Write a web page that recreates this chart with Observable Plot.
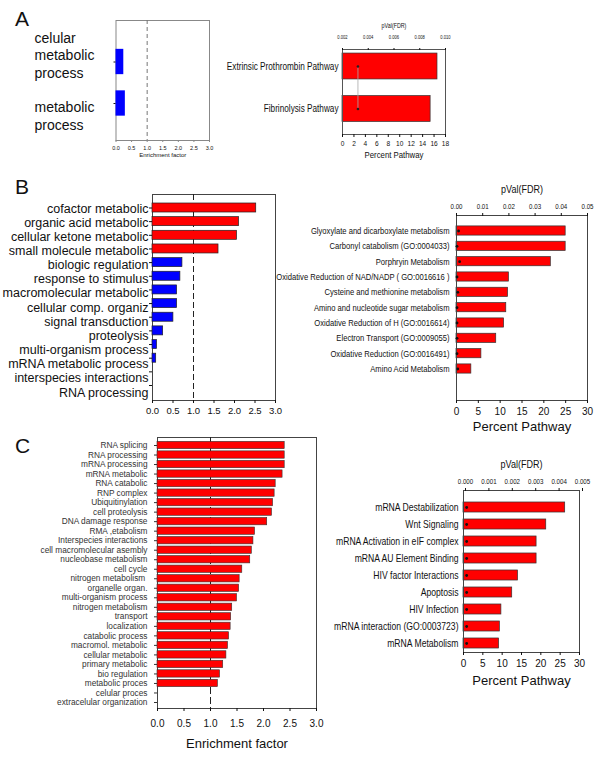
<!DOCTYPE html>
<html><head><meta charset="utf-8">
<script src="https://cdn.jsdelivr.net/npm/d3@7"></script>
<script src="https://cdn.jsdelivr.net/npm/@observablehq/plot@0.6"></script>
<style>
body{margin:0;background:#fff;}
#root{position:relative;width:604px;height:760px;overflow:hidden;background:#fff;font-family:"Liberation Sans",Arial,sans-serif;}
#root svg{position:absolute;left:0;top:0;}
.letter{position:absolute;font-size:21px;color:#111;line-height:1;}
</style></head><body><div id="root"></div>
<script>
// ---------- DATA ----------
const aLeftCats = ["celular metabolic process", "metabolic process"];
const aLeftLabels = ["celular\nmetabolic\nprocess", "metabolic\nprocess"];
const aLeftValues = [0.25, 0.3];
const enrichTicks = [0, 0.5, 1, 1.5, 2, 2.5, 3];

const aRightCats = ["Extrinsic Prothrombin Pathway", "Fibrinolysis Pathway"];
const aRightPercent = [16.6, 15.4];
const aRightPval = [0.0032, 0.0032];
const aPctTicks = [0, 2, 4, 6, 8, 10, 12, 14, 16, 18];
const aPvalTicks = [0.002, 0.004, 0.006, 0.008, 0.010];

const bLeftCats = ["cofactor metabolic", "organic acid metabolic", "cellular ketone metabolic", "small molecule metabolic", "biologic regulation", "response to stimulus", "macromolecular metabolic", "cellular comp. organiz", "signal transduction", "proteolysis", "multi-organism process", "mRNA metabolic process", "interspecies interactions", "RNA processing"];
const bLeftValues = [2.53, 2.11, 2.06, 1.61, 0.73, 0.68, 0.60, 0.60, 0.51, 0.26, 0.11, 0.09, 0, 0];
const bLeftDirection = ["up", "up", "up", "up", "down", "down", "down", "down", "down", "down", "down", "down", "down", "down"];

const bRightCats = ["Glyoxylate and dicarboxylate metabolism", "Carbonyl catabolism (GO:0004033)", "Porphryin Metabolism", "Oxidative Reduction of NAD/NADP ( GO:0016616 )", "Cysteine and methionine metabolism", "Amino and nucleotide sugar metabolism", "Oxidative Reduction of H (GO:0016614)", "Electron Transport (GO:0009055)", "Oxidative Reduction (GO:0016491)", "Amino Acid Metabolism"];
const bRightPercent = [25.0, 25.0, 21.6, 12.0, 11.8, 11.4, 10.9, 9.1, 5.7, 3.4];
const bRightPval = [0.0008, 0.0002, 0.0012, 0.0002, 0.0005, 0.0002, 0.0002, 0.0002, 0.0002, 0.0005];
const bPctTicks = [0, 5, 10, 15, 20, 25, 30];
const bPvalTicks = [0, 0.01, 0.02, 0.03, 0.04, 0.05];

const cLeftCats = ["RNA splicing", "RNA processing", "mRNA processing", "mRNA metabolic", "RNA catabolic", "RNP complex", "Ubiquitinylation", "cell proteolysis", "DNA damage response", "RMA ,etabolism", "Interspecies interactions", "cell macromolecular asembly", "nucleobase metabolism", "cell cycle", "nitrogen metabolism ", "organelle organ.", "multi-organism process", "nitrogen metabolism", "transport", "localization", "catabolic process", "macromol. metabolic", "cellular metabolic", "primary metabolic", "bio regulation", "metabolic proces", "celular proces", "extracelular organization"];
const cLeftValues = [2.40, 2.40, 2.40, 2.36, 2.23, 2.21, 2.18, 2.16, 2.07, 1.84, 1.81, 1.78, 1.75, 1.60, 1.55, 1.54, 1.50, 1.41, 1.39, 1.38, 1.35, 1.33, 1.30, 1.24, 1.18, 1.14, 0, 0];

const cRightCats = ["mRNA Destabilization", "Wnt Signaling", "mRNA Activation in eIF complex", "mRNA AU Element Binding", "HIV factor Interactions", "Apoptosis", "HIV Infection", "mRNA interaction (GO:0003723)", "mRNA Metabolism"];
const cRightPercent = [26.3, 21.4, 18.9, 18.9, 14.1, 12.6, 9.8, 9.4, 9.2];
const cRightPval = [0.00005, 0.00005, 0.00005, 0.00005, 0.00005, 0.00005, 0.00005, 0.00005, 0.00005];
const cPvalTicks = [0, 0.001, 0.002, 0.003, 0.004, 0.005];

// ---------- HELPERS ----------
const W = 604, H = 760;
const SANS = '"Liberation Sans", Arial, sans-serif';
const NARROW = '"Liberation Sans Narrow", "Arial Narrow", "Liberation Sans", Arial, sans-serif';
const root = document.getElementById("root");
function place(frame, opts) {
  const [x0, x1, y0, y1] = frame;
  const svg = Plot.plot({
    width: W, height: H,
    marginLeft: x0, marginRight: W - x1, marginTop: y0, marginBottom: H - y1,
    style: {background: "transparent", fontFamily: SANS, overflow: "visible", color: "#111"},
    ...opts
  });
  root.append(svg);
  // emulate a condensed face for the "narrow" texts (no condensed font installed)
  svg.querySelectorAll("text").forEach(t => {
    if (getComputedStyle(t).fontFamily.includes("Narrow") && t.querySelectorAll("tspan").length === 0) {
      const L = t.getComputedTextLength();
      if (L > 0) {
        t.setAttribute("textLength", (L * 0.82).toFixed(2));
        t.setAttribute("lengthAdjust", "spacingAndGlyphs");
      }
    }
  });
}
function bandY(domain, c0, c1, pad) {
  const n = domain.length;
  const step = n > 1 ? (c1 - c0) / (n - 1) : 40;
  return {domain, range: [c0 - step / 2, c1 + step / 2], paddingInner: pad, paddingOuter: pad / 2, align: 0.5, round: false, axis: null};
}
function letter(t, x, y) {
  const d = document.createElement("div");
  d.className = "letter"; d.textContent = t; d.style.left = x + "px"; d.style.top = y + "px";
  root.append(d);
}

const aLeft = aLeftCats.map((c, i) => ({cat: c, v: aLeftValues[i], label: aLeftLabels[i]}));
const aRight = aRightCats.map((c, i) => ({cat: c, pct: aRightPercent[i], p: aRightPval[i]}));
const bLeft = bLeftCats.map((c, i) => ({cat: c, v: bLeftValues[i], dir: bLeftDirection[i]}));
const bRight = bRightCats.map((c, i) => ({cat: c, pct: bRightPercent[i], p: bRightPval[i]}));
const cLeft = cLeftCats.map((c, i) => ({cat: c, v: cLeftValues[i]}));
const cRight = cRightCats.map((c, i) => ({cat: c, pct: cRightPercent[i], p: cRightPval[i]}));

// ---------- PANEL A LEFT ----------
const fA1 = [115.5, 209, 20, 140];
place(fA1, {
  x: {domain: [0, 3], axis: null},
  y: bandY(aLeftCats, 61.5, 103, 0.39),
  marks: [
    Plot.frame({stroke: "#888"}),
    Plot.ruleX([1], {stroke: "#777", strokeDasharray: "4,3"}),
    Plot.barX(aLeft, {x: "v", y: "cat", fill: "#0000ff"}),
    Plot.axisX({ticks: enrichTicks, tickFormat: d3.format(".1f"), fontSize: 5.5, tickSize: 2, tickPadding: 3.5, label: null, stroke: "#888"}),
    Plot.axisY({tickFormat: () => "", tickSize: 2, label: null}),
    Plot.text(["Enrichment factor"], {frameAnchor: "bottom", dy: 16, fontSize: 6}),
    Plot.text([aLeft[0]], {y: "cat", text: "label", frameAnchor: "left", textAnchor: "start", dx: -81.5, dy: -7.5, fontSize: 14, lineHeight: 1.25}),
    Plot.text([aLeft[1]], {y: "cat", text: "label", frameAnchor: "left", textAnchor: "start", dx: -81.5, dy: 12, fontSize: 14, lineHeight: 1.25})
  ]
});

// ---------- PANEL A RIGHT ----------
const fA2 = [342, 445, 49, 134];
place(fA2, {
  x: {domain: [0, 18], axis: null},
  y: bandY(aRightCats, 66, 108.5, 0.39),
  marks: [
    Plot.barX(aRight, {x: "pct", y: "cat", fill: "#ff0000", stroke: "#333", strokeWidth: 0.7}),
    Plot.frame({stroke: "#555"}),
    Plot.axisX({ticks: aPctTicks, fontSize: 8, tickSize: 3, tickPadding: 3, label: null, fontFamily: NARROW}),
    Plot.axisY({tickSize: 0, tickPadding: 4, fontSize: 10, fontFamily: NARROW, label: null}),
    Plot.text(["Percent Pathway"], {frameAnchor: "bottom", dy: 23, fontSize: 9.5, fontFamily: NARROW})
  ]
});
place(fA2, {
  x: {domain: [0.002, 0.010], axis: null},
  y: bandY(aRightCats, 66, 108.5, 0.39),
  marks: [
    Plot.line(aRight, {x: "p", y: "cat", stroke: "#aaa", strokeWidth: 0.8}),
    Plot.dot(aRight, {x: "p", y: "cat", r: 1.3, fill: "#222", stroke: null}),
    Plot.axisX({anchor: "top", ticks: aPvalTicks, tickFormat: d3.format(".3f"), fontSize: 5, tickSize: 2, tickPadding: 9, label: null, fontFamily: NARROW}),
    Plot.text(["pVal(FDR)"], {frameAnchor: "top", dy: -26, fontSize: 6.5, fontFamily: NARROW})
  ]
});

// ---------- PANEL B LEFT ----------
const fB1 = [152, 275, 194, 400];
place(fB1, {
  x: {domain: [0, 3], axis: null},
  y: bandY(bLeftCats, 207.5, 385, 0.34),
  color: {domain: ["up", "down"], range: ["#ff0000", "#0000ff"]},
  marks: [
    Plot.frame({stroke: "#444"}),
    Plot.ruleX([1], {stroke: "#222", strokeDasharray: "6,3"}),
    Plot.barX(bLeft.filter(d => d.v > 0), {x: "v", y: "cat", fill: "dir", stroke: "#222", strokeWidth: 0.7}),
    Plot.axisX({ticks: enrichTicks, tickFormat: d3.format(".1f"), fontSize: 9.5, tickSize: 3, tickPadding: 3.5, label: null}),
    Plot.axisY({tickFormat: () => "", tickSize: 3, label: null})
  ]
});
place(fB1, {
  x: {domain: [0, 3], axis: null},
  y: bandY(bLeftCats, 208, 392, 0.34),
  marks: [
    Plot.text(bLeft, {y: "cat", text: "cat", frameAnchor: "left", textAnchor: "end", dx: -4, fontSize: 12.5})
  ]
});

// ---------- PANEL B RIGHT ----------
const fB2 = [456, 587, 215, 400];
place(fB2, {
  x: {domain: [0, 30], axis: null},
  y: bandY(bRightCats, 230.5, 368.5, 0.4),
  marks: [
    Plot.barX(bRight, {x: "pct", y: "cat", fill: "#ff0000", stroke: "#333", strokeWidth: 0.7}),
    Plot.frame({stroke: "#444"}),
    Plot.axisX({ticks: bPctTicks, fontSize: 10, tickSize: 3, tickPadding: 4, label: null}),
    Plot.axisY({tickSize: 0, tickPadding: 7, fontSize: 9.3, fontFamily: NARROW, label: null}),
    Plot.text(["Percent Pathway"], {frameAnchor: "bottom", dy: 30, fontSize: 13})
  ]
});
place(fB2, {
  x: {domain: [0, 0.05], axis: null},
  y: bandY(bRightCats, 230.5, 368.5, 0.4),
  marks: [
    Plot.dot(bRight, {x: "p", y: "cat", r: 1.4, fill: "#111", stroke: null}),
    Plot.axisX({anchor: "top", ticks: bPvalTicks, tickFormat: d3.format(".2f"), fontSize: 7.5, tickSize: 3, tickPadding: 4, label: null, fontFamily: NARROW}),
    Plot.text(["pVal(FDR)"], {frameAnchor: "top", dy: -30, fontSize: 11, fontFamily: NARROW})
  ]
});

// ---------- PANEL C LEFT ----------
const fC1 = [157, 316, 437, 708];
place(fC1, {
  x: {domain: [0, 3], axis: null},
  y: bandY(cLeftCats, 445, 702, 0.23),
  marks: [
    Plot.frame({stroke: "#444"}),
    Plot.ruleX([1], {stroke: "#222", strokeDasharray: "7,3"}),
    Plot.barX(cLeft.filter(d => d.v > 0), {x: "v", y: "cat", fill: "#ff0000", stroke: "#333", strokeWidth: 0.6}),
    Plot.axisX({ticks: enrichTicks, tickFormat: d3.format(".1f"), fontSize: 10, tickSize: 3, tickPadding: 8, label: null}),
    Plot.axisY({tickSize: 3, tickPadding: 7, fontSize: 8.3, label: null, color: "#333"}),
    Plot.text(["Enrichment factor"], {frameAnchor: "bottom", dy: 39, fontSize: 13})
  ]
});

// ---------- PANEL C RIGHT ----------
const fC2 = [463, 579, 490, 652];
place(fC2, {
  x: {domain: [0, 30], axis: null},
  y: bandY(cRightCats, 507, 643, 0.41),
  marks: [
    Plot.barX(cRight, {x: "pct", y: "cat", fill: "#ff0000", stroke: "#333", strokeWidth: 0.7}),
    Plot.frame({stroke: "#444"}),
    Plot.axisX({ticks: bPctTicks, fontSize: 10, tickSize: 3, tickPadding: 4, label: null}),
    Plot.axisY({tickSize: 0, tickPadding: 5, fontSize: 10.5, fontFamily: NARROW, label: null}),
    Plot.text(["Percent Pathway"], {frameAnchor: "bottom", dy: 32, fontSize: 13})
  ]
});
place(fC2, {
  x: {domain: [0, 0.005], range: [465, 582], axis: null},
  y: bandY(cRightCats, 507, 643, 0.41),
  marks: [
    Plot.dot(cRight, {x: "p", y: "cat", r: 1.4, fill: "#111", stroke: null}),
    Plot.axisX({anchor: "top", ticks: cPvalTicks, tickFormat: d3.format(".3f"), fontSize: 7.5, tickSize: 3, tickPadding: 3.5, label: null, fontFamily: NARROW}),
    Plot.text(["pVal(FDR)"], {frameAnchor: "top", dy: -30, fontSize: 11, fontFamily: NARROW})
  ]
});

letter("A", 15, 8);
letter("B", 15, 176);
letter("C", 15, 435);
</script></body></html>
